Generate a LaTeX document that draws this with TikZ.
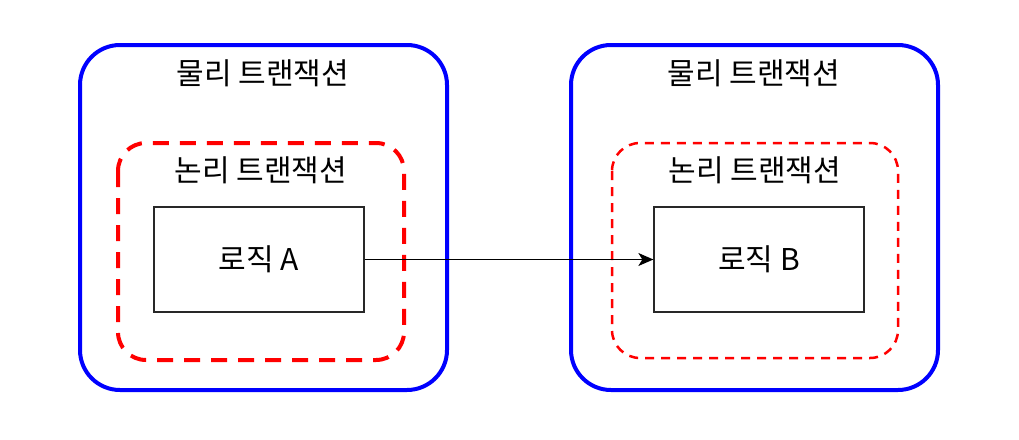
\documentclass[tikz,border=0pt]{standalone}
\usepackage{fontspec}
\setmainfont{Noto Sans CJK KR}
\usetikzlibrary{arrows.meta}
\begin{document}
\begin{tikzpicture}[x=1pt,y=-1pt,
  outerbox/.style={draw={rgb,255:red,0;green,0;blue,255},line width=4pt,rounded corners=40pt},
  innerthick/.style={draw={rgb,255:red,255;green,0;blue,0},line width=4pt,rounded corners=28pt,dash pattern=on 16pt off 11pt},
  innerthin/.style={draw={rgb,255:red,255;green,0;blue,0},line width=2.5pt,rounded corners=28pt,dash pattern=on 9pt off 7pt},
  logicbox/.style={draw={rgb,255:red,40;green,40;blue,40},line width=1.3pt,minimum width=210pt,minimum height=105pt,font=\fontsize{30}{34}\selectfont,inner sep=0pt},
  title/.style={font=\fontsize{30}{34}\selectfont,inner sep=0pt}]
\useasboundingbox (0,0) rectangle (1019,439);
% left
\draw[outerbox] (80,45) rectangle (447,390);
\draw[innerthick] (118,143) rectangle (404,360);
\node[title] (tA) at (263,73) {물리 트랜잭션};
\node[title] (lA) at (261,170) {논리 트랜잭션};
\node[logicbox] (A) at (259,259.5) {로직 A};
% right
\draw[outerbox] (571,45) rectangle (938,390);
\draw[innerthin] (612,143) rectangle (898,358);
\node[title] (tB) at (754,73) {물리 트랜잭션};
\node[title] (lB) at (755,170) {논리 트랜잭션};
\node[logicbox] (B) at (759,259.5) {로직 B};
\draw[line width=1.3pt,-{Stealth[length=15pt,width=13pt,inset=4pt]}] (A.east) -- (B.west);
\end{tikzpicture}
\end{document}
